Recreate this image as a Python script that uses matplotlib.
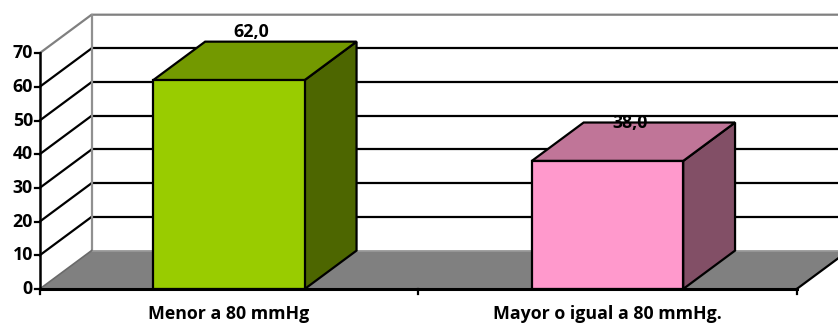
import matplotlib.pyplot as plt
from matplotlib.patches import Polygon

categories = ['Menor a 80 mmHg', 'Mayor o igual a 80 mmHg.']
values = [62.0, 38.0]
y_ticks = [0, 10, 20, 30, 40, 50, 60, 70]

front_colors = ['#99cc00', '#ff99cc']
top_colors = ['#739900', '#c07598']
side_colors = ['#4d6600', '#824f66']
label_lift = [3.0, 0.0]

# depth of the fake 3d box, in category / value units
dx = 0.137
dy = 11.4
bar_w = 0.4
y_max = 70
fs = 12.8


def main():
    plt.rcParams['font.family'] = ['Open Sans', 'DejaVu Sans']
    fig = plt.figure(figsize=(8.38, 3.24), dpi=100)
    ax = fig.add_axes([0, 0, 1, 1])
    ax.set_xlim(-0.605, 1.609)
    ax.set_ylim(-10.39, 85.76)
    ax.axis('off')

    x0 = -0.5
    x1 = len(categories) - 0.5

    # back wall and side wall
    ax.add_patch(Polygon([(x0 + dx, dy), (x1 + dx + 1, dy), (x1 + dx + 1, y_max + dy),
                          (x0 + dx, y_max + dy)], closed=True, fc='white', ec='none'))
    for t in y_ticks[1:-1]:
        ax.plot([x0, x0 + dx], [t, t + dy], color='black', lw=1.6, zorder=2)
        ax.plot([x0 + dx, x1 + dx + 1], [t + dy, t + dy], color='black', lw=1.6, zorder=2)
    ax.plot([x0, x0 + dx, x1 + dx + 1], [y_max, y_max + dy, y_max + dy], color='#808080', lw=1.6, zorder=2)
    ax.plot([x0 + dx, x0 + dx], [dy, y_max + dy], color='#909090', lw=1.6, zorder=2)

    # floor
    ax.add_patch(Polygon([(x0, 0), (x1, 0), (x1 + dx, dy), (x0 + dx, dy)],
                         closed=True, fc='#808080', ec='none', zorder=3))
    ax.plot([x0 + dx, x1 + dx + 1], [dy, dy], color='#9a9a9a', lw=1.2, zorder=3)
    ax.plot([x0, x0 + dx], [0, dy], color='#6a6a6a', lw=1.2, zorder=3)
    ax.plot([x1, x1 + dx], [0, dy], color='black', lw=1.6, zorder=3)

    # bars
    for i, v in enumerate(values):
        l = i - bar_w / 2
        r = i + bar_w / 2
        side = [(r, 0), (r + dx, dy), (r + dx, v + dy), (r, v)]
        top = [(l, v), (r, v), (r + dx, v + dy), (l + dx, v + dy)]
        front = [(l, 0), (r, 0), (r, v), (l, v)]
        for pts, c in [(side, side_colors[i]), (top, top_colors[i]), (front, front_colors[i])]:
            ax.add_patch(Polygon(pts, closed=True, fc=c, ec='black', lw=1.6,
                                 joinstyle='miter', zorder=4))
        ax.text(i + dx / 2 - 0.01, v + dy + label_lift[i], f'{v:.1f}'.replace('.', ','),
                ha='center', va='center', fontsize=fs, fontweight='bold', zorder=6)

    # front axes
    ax.plot([x0, x0], [0, y_max], color='black', lw=1.8, zorder=5)
    ax.plot([x0, x1], [0, 0], color='black', lw=2.2, zorder=5)
    for t in y_ticks:
        ax.plot([x0 - 0.013, x0], [t, t], color='black', lw=1.6, zorder=5)
        ax.text(x0 - 0.018, t, str(t), ha='right', va='center',
                fontsize=fs, fontweight='bold')
    for k in range(len(categories) + 1):
        ax.plot([x0 + k, x0 + k], [0, -1.5], color='black', lw=1.6, zorder=5)
    for i, name in enumerate(categories):
        ax.text(i, -7.3, name, ha='center', va='center', fontsize=fs, fontweight='bold')

    fig.savefig('out.png', dpi=100)


if __name__ == '__main__':
    main()
